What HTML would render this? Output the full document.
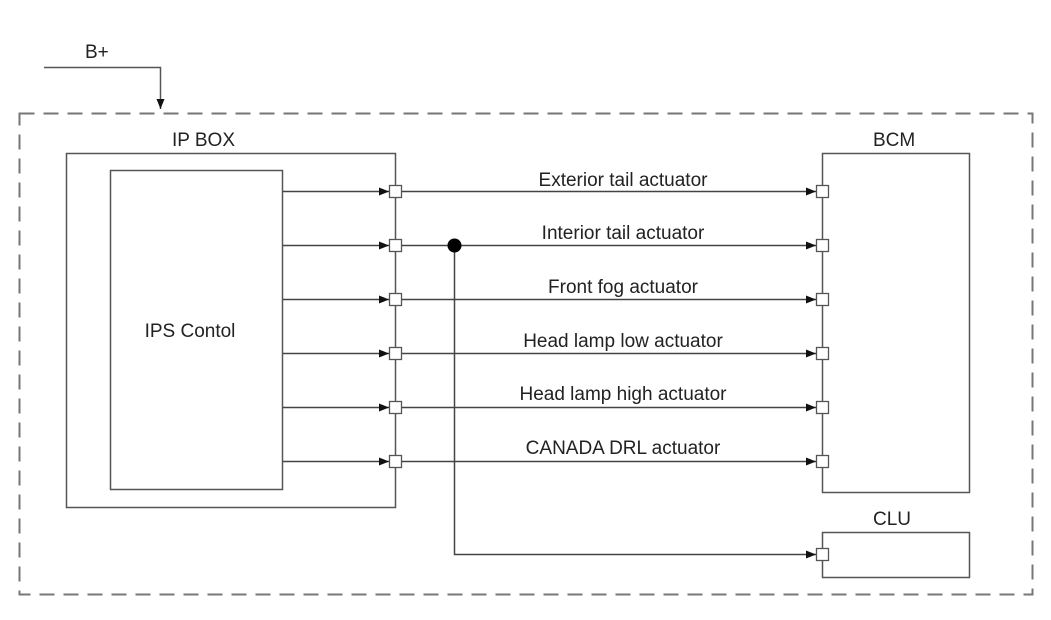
<!DOCTYPE html>
<html><head><style>body{margin:0;background:#fff}svg{display:block}text{font-family:"Liberation Sans",Arial,sans-serif;font-size:19px;fill:#222}</style></head><body>
<svg width="1051" height="620" viewBox="0 0 1051 620" xmlns="http://www.w3.org/2000/svg">
<defs><marker id="a" markerWidth="10" markerHeight="8" refX="10" refY="4" orient="auto" markerUnits="userSpaceOnUse"><path d="M0,0L10,4L0,8z" fill="#111"/></marker></defs>
<rect x="19.5" y="113.5" width="1013" height="481" fill="none" stroke="#777" stroke-width="2" stroke-dasharray="15,9"/>
<text x="85" y="58">B+</text>
<path d="M44 67.5H160.5V109" fill="none" stroke="#555" stroke-width="1.5" marker-end="url(#a)"/>
<text x="172" y="146">IP BOX</text>
<rect x="66.5" y="153.5" width="329" height="354" fill="none" stroke="#555" stroke-width="1.5"/>
<rect x="110.5" y="170.5" width="172" height="319" fill="none" stroke="#555" stroke-width="1.5"/>
<text x="190" y="337" text-anchor="middle">IPS Contol</text>
<text x="873" y="146">BCM</text>
<rect x="822.5" y="153.5" width="147" height="339" fill="none" stroke="#555" stroke-width="1.5"/>
<text x="873" y="525">CLU</text>
<rect x="822.5" y="532.5" width="147" height="45" fill="none" stroke="#555" stroke-width="1.5"/>
<g stroke="#444" stroke-width="1.5" marker-end="url(#a)">
<line x1="283" y1="191.5" x2="389" y2="191.5"/><line x1="283" y1="245.5" x2="389" y2="245.5"/><line x1="283" y1="299.5" x2="389" y2="299.5"/><line x1="283" y1="353.5" x2="389" y2="353.5"/><line x1="283" y1="407.5" x2="389" y2="407.5"/><line x1="283" y1="461.5" x2="389" y2="461.5"/>
<line x1="401" y1="191.5" x2="816" y2="191.5"/><line x1="401" y1="245.5" x2="816" y2="245.5"/><line x1="401" y1="299.5" x2="816" y2="299.5"/><line x1="401" y1="353.5" x2="816" y2="353.5"/><line x1="401" y1="407.5" x2="816" y2="407.5"/><line x1="401" y1="461.5" x2="816" y2="461.5"/>
</g>
<path d="M454.5 245V554.5H816" fill="none" stroke="#444" stroke-width="1.5" marker-end="url(#a)"/>
<circle cx="454.5" cy="245.5" r="7" fill="#000"/>
<g fill="#fff" stroke="#555" stroke-width="1.3">
<rect x="389.5" y="185.5" width="12" height="12"/><rect x="389.5" y="239.5" width="12" height="12"/><rect x="389.5" y="293.5" width="12" height="12"/><rect x="389.5" y="347.5" width="12" height="12"/><rect x="389.5" y="401.5" width="12" height="12"/><rect x="389.5" y="455.5" width="12" height="12"/>
<rect x="816.5" y="185.5" width="12" height="12"/><rect x="816.5" y="239.5" width="12" height="12"/><rect x="816.5" y="293.5" width="12" height="12"/><rect x="816.5" y="347.5" width="12" height="12"/><rect x="816.5" y="401.5" width="12" height="12"/><rect x="816.5" y="455.5" width="12" height="12"/><rect x="816.5" y="548.5" width="12" height="12"/>
</g>
<g text-anchor="middle">
<text x="623" y="186">Exterior tail actuator</text>
<text x="623" y="239">Interior tail actuator</text>
<text x="623" y="293">Front fog actuator</text>
<text x="623" y="347">Head lamp low actuator</text>
<text x="623" y="400">Head lamp high actuator</text>
<text x="623" y="454">CANADA DRL actuator</text>
</g>
</svg>
</body></html>
